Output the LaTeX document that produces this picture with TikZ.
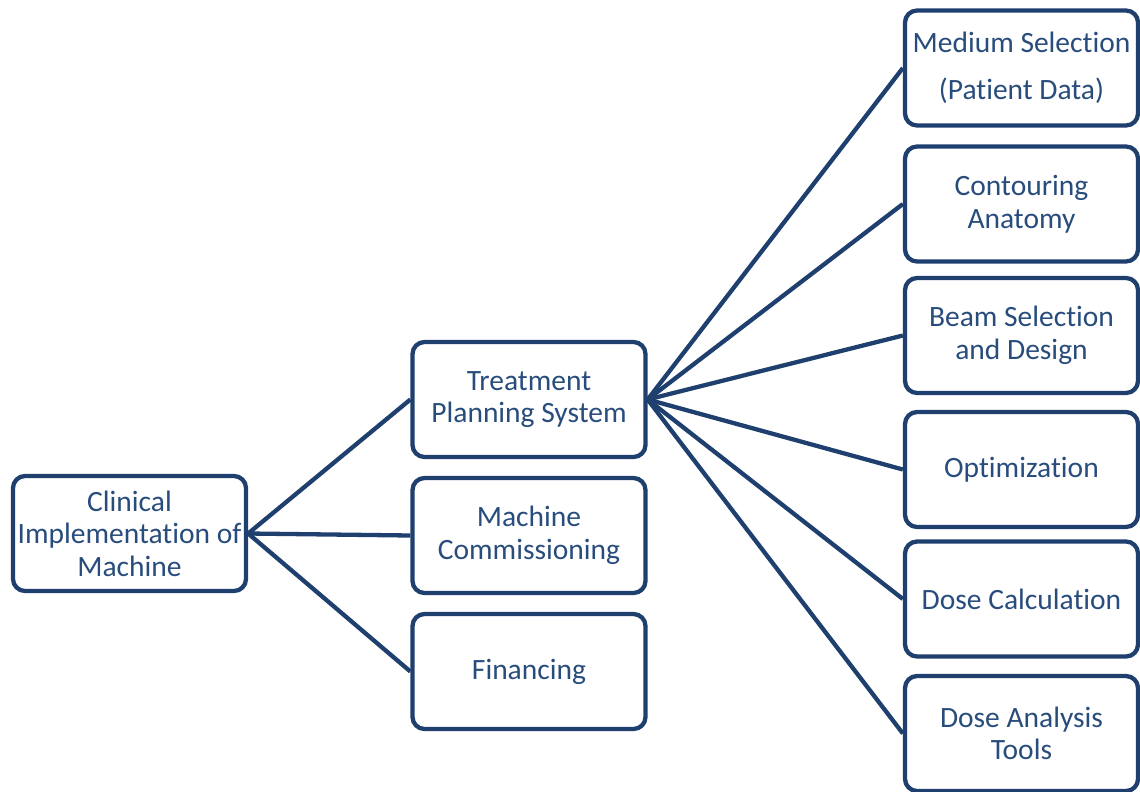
\documentclass[tikz,border=0pt]{standalone}
\usepackage{fontspec}
\setmainfont{Carlito}[Ligatures=NoCommon]
\definecolor{darkblue}{RGB}{31,64,110}
\definecolor{textblue}{RGB}{40,76,124}
\begin{document}
\begin{tikzpicture}[x=1pt,y=-1pt,
                    box/.style = {draw=darkblue, line width=4.3pt, rounded corners=12pt,
                                  minimum width=233pt, minimum height=115pt, inner sep=0pt,
                                  align=center, text=textblue,
                                  font=\fontsize{29.5}{32.5}\selectfont},
                    link/.style = {darkblue, line width=4.3pt}]
                    \useasboundingbox (0,0) rectangle (1140,792);

                    \node [box] (clinical) at (129.5,533.5) {Clinical\\Implementation of\\Machine};

                    \node [box] (tps) at (529,399.5) {Treatment\\Planning System};
                    \node [box] (commissioning) at (529,535.5) {Machine\\Commissioning};
                    \node [box] (financing) at (529,671.5) {Financing};

                    \node [box] (medium) at (1021.5,68) {Medium Selection\\[14pt](Patient Data)};
                    \node [box] (contouring) at (1021.5,204) {Contouring\\Anatomy};
                    \node [box] (beam) at (1021.5,335.5) {Beam Selection\\and Design};
                    \node [box] (optimization) at (1021.5,469.5) {Optimization};
                    \node [box] (dosecalc) at (1021.5,599) {Dose Calculation};
                    \node [box] (doseanalysis) at (1021.5,733.5) {Dose Analysis\\Tools};

                    \draw[link] (clinical.east) -- (tps.west);
                    \draw[link] (clinical.east) -- (commissioning.west);
                    \draw[link] (clinical.east) -- (financing.west);

                    \foreach \n in {medium,contouring,beam,optimization,dosecalc,doseanalysis}
                        \draw[link] (tps.east) -- (\n.west);
                \end{tikzpicture}
\end{document}
